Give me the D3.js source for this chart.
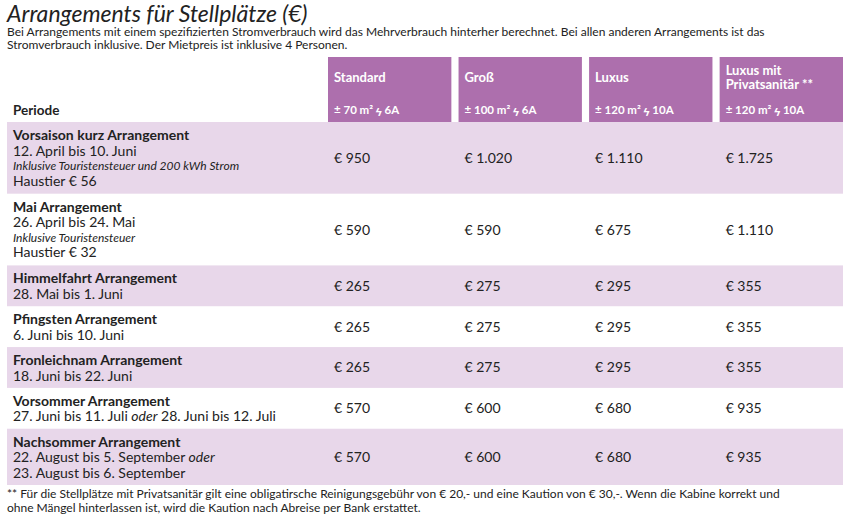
<!DOCTYPE html>
<html><head><meta charset="utf-8">
<script src="https://cdn.jsdelivr.net/npm/d3@7"></script>
<style>body{margin:0;background:#fff;font-family:Lato,"Open Sans",sans-serif;}</style>
</head><body><div id="chart"></div>
<script>
const columns = ["Standard", "Groß", "Luxus", "Luxus mit|Privatsanitär **"];
const specs = ["± 70 m²  ϟ 6A", "± 100 m²  ϟ 6A", "± 120 m²  ϟ 10A", "± 120 m²  ϟ 10A"];
const periods = ["Vorsaison kurz Arrangement", "Mai Arrangement", "Himmelfahrt Arrangement", "Pfingsten Arrangement",
  "Fronleichnam Arrangement", "Vorsommer Arrangement", "Nachsommer Arrangement"];
const dates = [["12. April bis 10. Juni"], ["26. April bis 24. Mai"], ["28. Mai bis 1. Juni"], ["6. Juni bis 10. Juni"],
  ["18. Juni bis 22. Juni"], ["27. Juni bis 11. Juli |oder| 28. Juni bis 12. Juli"],
  ["22. August bis 5. September |oder|", "23. August bis 6. September"]];
const notes = ["Inklusive Touristensteuer und 200 kWh Strom", "Inklusive Touristensteuer", "", "", "", "", ""];
const pets = ["Haustier € 56", "Haustier € 32", "", "", "", "", ""];
const standard = ["€ 950", "€ 590", "€ 265", "€ 265", "€ 265", "€ 570", "€ 570"];
const gross = ["€ 1.020", "€ 590", "€ 275", "€ 275", "€ 275", "€ 600", "€ 600"];
const luxus = ["€ 1.110", "€ 675", "€ 295", "€ 295", "€ 295", "€ 680", "€ 680"];
const luxusSan = ["€ 1.725", "€ 1.110", "€ 355", "€ 355", "€ 355", "€ 935", "€ 935"];
const prices = [standard, gross, luxus, luxusSan];

const W = 850, H = 518;
const svg = d3.select("#chart").append("svg").attr("width", W).attr("height", H);

svg.append("text").attr("x", 7).attr("y", 22).attr("font-size", 23).attr("font-style", "italic")
  .attr("fill", "#222").text("Arrangements für Stellplätze (€)");
["Bei Arrangements mit einem spezifizierten Stromverbrauch wird das Mehrverbrauch hinterher berechnet. Bei allen anderen Arrangements ist das",
 "Stromverbrauch inklusive. Der Mietpreis ist inklusive 4 Personen."].forEach((t, i) =>
  svg.append("text").attr("x", 7).attr("y", 36 + i * 13).attr("font-size", 12).attr("fill", "#222").text(t));

const x = d3.scaleBand().domain(d3.range(4)).range([328, 843]).paddingInner(0.055);
// row heights derived from line counts
const rows = periods.map((p, i) => {
  const n = 1 + dates[i].length + (notes[i] ? 1 : 0) + (pets[i] ? 1 : 0);
  return { i, n };
});
const rowH = rows.map(r => r.n * 15.5 + 10);
const scale = (485 - 122) / d3.sum(rowH);
const tops = d3.cumsum([0, ...rowH]).map(v => 122 + v * scale);

// header
const hd = svg.selectAll(".hd").data(columns).join("g");
hd.append("rect").attr("x", (d, i) => x(i)).attr("y", 57).attr("width", x.bandwidth()).attr("height", 65).attr("fill", "#ad6fad");
hd.each(function(d, i) {
  const parts = d.split("|");
  parts.forEach((t, k) => d3.select(this).append("text").attr("x", x(i) + 6)
    .attr("y", parts.length > 1 ? 75 + k * 14 : 82).attr("font-size", 13).attr("font-weight", "bold")
    .attr("fill", "#fff").text(t));
  d3.select(this).append("text").attr("x", x(i) + 6).attr("y", 114).attr("font-size", 11.5)
    .attr("font-weight", "bold").attr("fill", "#fff").text(specs[i]);
});
svg.append("text").attr("x", 13).attr("y", 115).attr("font-size", 13.5).attr("font-weight", "bold").attr("fill", "#222").text("Periode");

// rows
rows.forEach(r => {
  const top = tops[r.i], bot = tops[r.i + 1];
  if (r.i % 2 === 0) svg.append("rect").attr("x", 7).attr("y", top).attr("width", 836).attr("height", bot - top).attr("fill", "#e8d7ea");
  const g = svg.append("g");
  let ly = top + 18;
  g.append("text").attr("x", 13).attr("y", ly).attr("font-size", 14).attr("font-weight", "bold").attr("fill", "#222").text(periods[r.i]);
  dates[r.i].forEach(dl => {
    ly += 15.5;
    const t = g.append("text").attr("x", 13).attr("y", ly).attr("font-size", 14).attr("fill", "#222");
    dl.split("|").forEach((s, k) => t.append("tspan").attr("font-style", k === 1 ? "italic" : "normal").text(s));
  });
  if (notes[r.i]) { ly += 14.5; g.append("text").attr("x", 13).attr("y", ly).attr("font-size", 12).attr("font-style", "italic").attr("fill", "#222").text(notes[r.i]); }
  if (pets[r.i]) { ly += 15.5; g.append("text").attr("x", 13).attr("y", ly).attr("font-size", 14).attr("fill", "#222").text(pets[r.i]); }
  prices.forEach((s, c) => svg.append("text").attr("x", x(c) + 6).attr("y", (top + bot) / 2 + 5)
    .attr("font-size", 14).attr("fill", "#222").text(s[r.i]));
});

["** Für die Stellplätze mit Privatsanitär gilt eine obligatirsche Reinigungsgebühr von € 20,- und eine Kaution von € 30,-. Wenn die Kabine korrekt und",
 "ohne Mängel hinterlassen ist, wird die Kaution nach Abreise per Bank erstattet."].forEach((t, i) =>
  svg.append("text").attr("x", 7).attr("y", 498 + i * 14).attr("font-size", 12).attr("fill", "#222").text(t));
</script></body></html>
